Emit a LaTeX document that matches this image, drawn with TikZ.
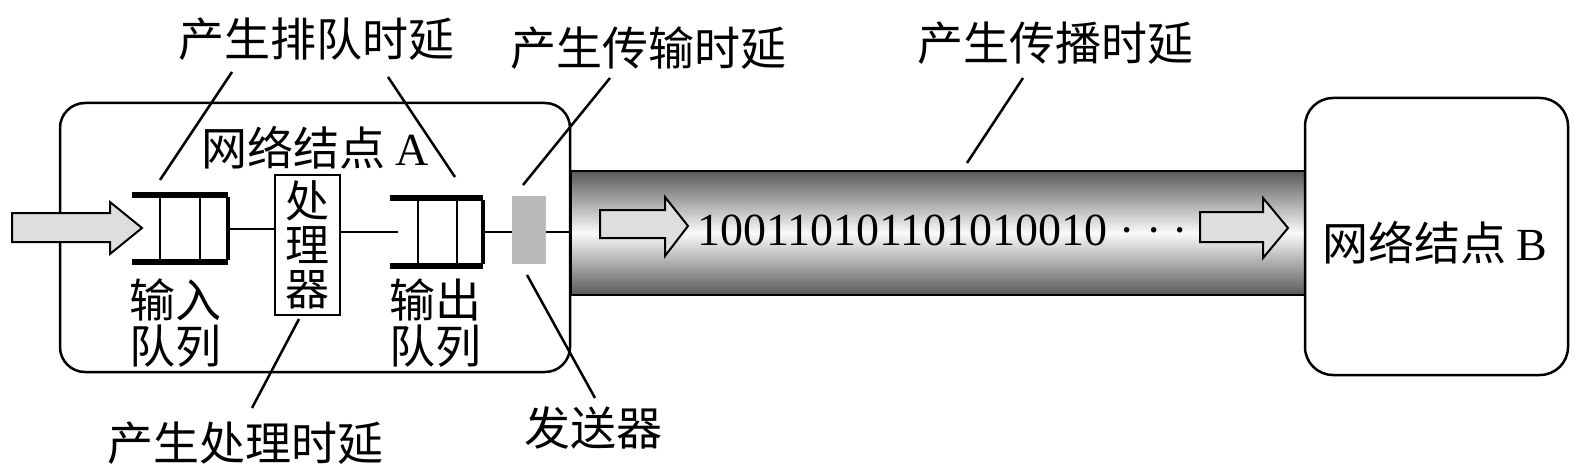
\documentclass[tikz,border=0pt]{standalone}
\usepackage{fontspec}
\setmainfont{Liberation Serif}
\newfontfamily\cjk{Noto Sans CJK SC}
\newcommand\drawqueue[3]{% name, first inner offset, second inner offset
  \draw[line width=5.5pt] (#1.north west) -- (#1.north east);
  \draw[line width=5.5pt] (#1.south west) -- (#1.south east);
  \draw[line width=3.5pt] ([yshift=2.5pt]#1.south east) -- ([yshift=-2.5pt]#1.north east);
  \draw[line width=2.5pt] ([xshift=#2]#1.south west) -- ([xshift=#2]#1.north west);
  \draw[line width=2.5pt] ([xshift=#3]#1.south west) -- ([xshift=#3]#1.north west);
}
\begin{document}
\begin{tikzpicture}[x=1pt,y=-1pt,
  box/.style={draw, line width=2.5pt, inner sep=0pt},
  cn/.style={font=\cjk\fontsize{46}{46}\selectfont, inner sep=0pt},
  wire/.style={line width=2pt},
  leader/.style={line width=2.5pt},
  fat/.style={draw, line width=2pt, fill=black!13, line join=miter},
  queuebox/.style={minimum width=#1, inner sep=0pt, minimum height=67pt},
]
\useasboundingbox (0,0) rectangle (1591,476);

% cable
\node[draw, line width=2.5pt, top color=black!65, bottom color=black!65, middle color=black!2,
      minimum width=734pt, minimum height=124pt, inner sep=0pt] (cable) at (938,233) {};

% network nodes
\node[box, rounded corners=25pt, minimum width=510pt, minimum height=269pt] (A) at (315,237.5) {};
\node[box, rounded corners=28pt, minimum width=263pt, minimum height=277pt] (B) at (1436.5,236.5) {};
\node[cn] (Alabel) at (315,148) {网络结点 {\rmfamily A}};
\node[cn] (Blabel) at (1435,243) {网络结点 {\rmfamily B}};

% queues, processor, sender
\node[queuebox=96pt] (qin) at (180,228.5) {};
\drawqueue{qin}{28pt}{68pt}
\node[queuebox=93pt, minimum height=68pt] (qout) at (436.5,232) {};
\drawqueue{qout}{28pt}{67pt}
\node[draw, line width=2pt, minimum width=65pt, minimum height=140pt, inner sep=0pt,
      align=center, font=\cjk\fontsize{44}{44}\selectfont] (proc) at (307.5,245) {处\\理\\器};
\node[fill=black!27, minimum width=34pt, minimum height=68pt, inner sep=0pt] (tx) at (529,230) {};

\node[cn, align=center] (inq) at (175,323) {输入\\队列};
\node[cn, align=center] (outq) at (435,323) {输出\\队列};

% wires
\draw[wire] (qin.east) -- (qin.east -| proc.west);
\draw[wire] (proc.east |- qout.west) -- ([xshift=8pt]qout.west);
\draw[wire] (qout.east) -- (qout.east -| tx.west);
\draw[wire] (tx.east |- qout.east) -- (cable.west |- qout.east);

% fat arrows
\filldraw[fat] (12,213) -- (110,213) -- (110,202) -- (142,228) -- (110,254) -- (110,242) -- (12,242) -- cycle;
\filldraw[fat] (600,210) -- (665,210) -- (665,197) -- (688,226) -- (665,256) -- (665,238) -- (600,238) -- cycle;
\filldraw[fat] (1200,212) -- (1263,212) -- (1263,198) -- (1288,228) -- (1263,258) -- (1263,242) -- (1200,242) -- cycle;

% bits
\node[anchor=base west, inner sep=0pt, font=\fontsize{46}{46}\selectfont] (bits) at (697,245) {100110101101010010 · · ·};

% labels
\node[cn] (ql) at (316,39) {产生排队时延};
\node[cn] (tl) at (648,48) {产生传输时延};
\node[cn] (pl) at (1055,43) {产生传播时延};
\node[cn] (prl) at (245,443) {产生处理时延};
\node[cn] (sn) at (593,428) {发送器};

% leader lines
\coordinate (ql1) at (232,72);  \coordinate (ql2) at (160,180);
\coordinate (qr1) at (388,77);  \coordinate (qr2) at (455,177);
\coordinate (tl1) at (610,78);  \coordinate (tl2) at (523,185);
\coordinate (pl1) at (1023,78); \coordinate (pl2) at (967,163);
\coordinate (pr1) at (299,319); \coordinate (pr2) at (252,408);
\coordinate (sn1) at (527,275); \coordinate (sn2) at (595,398);
\draw[leader] (ql1) -- (ql2);
\draw[leader] (qr1) -- (qr2);
\draw[leader] (tl1) -- (tl2);
\draw[leader] (pl1) -- (pl2);
\draw[leader] (pr1) -- (pr2);
\draw[leader] (sn1) -- (sn2);
\end{tikzpicture}
\end{document}
